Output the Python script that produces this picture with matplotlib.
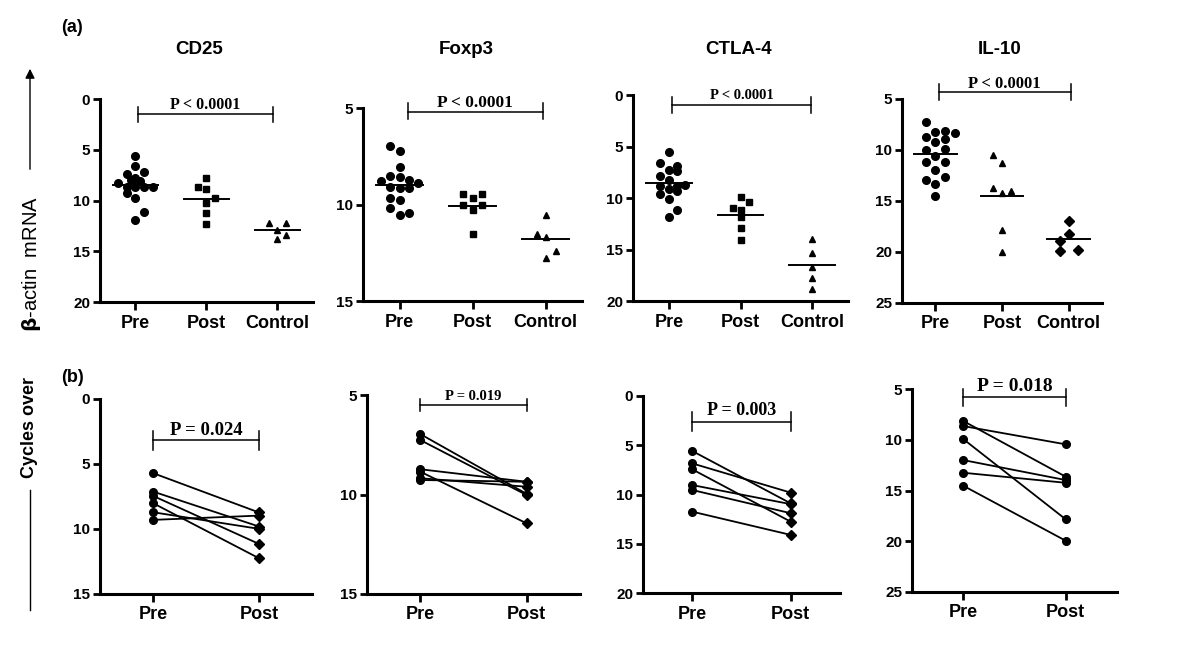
import matplotlib
matplotlib.use('Agg')
import matplotlib.pyplot as plt
import numpy as np

groups3 = ['Pre', 'Post', 'Control']
groups2 = ['Pre', 'Post']
genes = ['CD25', 'Foxp3', 'CTLA-4', 'IL-10']

# (a) scatter data, cycles over beta-actin
cd25_pre = [5.6, 6.6, 7.2, 7.4, 7.8, 8.0, 8.1, 8.3, 8.65, 8.7, 8.7, 8.7, 9.3, 9.8, 11.1, 11.9]
cd25_post = [7.8, 8.65, 8.9, 9.8, 10.2, 11.2, 12.3]
cd25_ctrl = [12.2, 12.2, 12.9, 13.4, 13.8]

foxp3_pre = [6.99, 7.25, 8.06, 8.5, 8.58, 8.8, 8.75, 8.86, 9.07, 9.15, 9.15, 9.67, 9.76, 10.16, 10.54, 10.45]
foxp3_post = [9.45, 9.67, 9.45, 10.05, 10.28, 10.05, 11.52]
foxp3_ctrl = [10.54, 11.52, 11.66, 12.39, 12.79]

ctla4_pre = [5.57, 6.63, 6.9, 7.28, 7.35, 7.83, 8.25, 8.83, 8.83, 8.74, 9.16, 9.29, 9.61, 10.1, 11.17, 11.81]
ctla4_post = [9.87, 10.42, 11.0, 11.17, 11.88, 12.88, 14.08]
ctla4_ctrl = [14.0, 15.3, 16.7, 17.8, 18.87]

il10_pre = [7.29, 8.21, 8.11, 8.37, 8.7, 9.19, 8.96, 10.0, 10.56, 9.91, 11.15, 11.15, 11.97, 12.63, 12.95, 13.35, 14.53]
il10_post = [10.5, 11.32, 13.7, 14.2, 14.0, 17.86, 19.99]
il10_ctrl = [16.95, 18.26, 18.94, 19.89, 19.83]

# horizontal spread of points inside each column (column scatter layout)
cd25_pre_dx = [0, 0, 0.12, -0.12, 0, -0.06, 0.07, -0.24, -0.12, 0, 0.12, 0.24, -0.12, 0, 0.12, 0]
cd25_post_dx = [0, -0.12, 0, 0.12, 0, 0, 0]
cd25_ctrl_dx = [-0.12, 0.12, 0, 0.12, 0]
foxp3_pre_dx = [-0.125, 0, 0, -0.125, 0, -0.25, 0.13, 0.26, -0.125, 0, 0.13, -0.125, 0, -0.125, 0, 0.13]
foxp3_post_dx = [-0.125, 0, 0.13, -0.125, 0, 0.13, 0]
foxp3_ctrl_dx = [0, -0.115, 0, 0.14, 0]
ctla4_pre_dx = [0, -0.12, 0.12, 0, 0.12, -0.12, 0, -0.12, 0.12, 0.22, 0, 0.12, -0.12, 0, 0.12, 0]
ctla4_post_dx = [0, 0.12, -0.11, 0, 0, 0, 0]
ctla4_ctrl_dx = [0, 0, 0, 0, 0]
il10_pre_dx = [-0.135, 0, 0.15, 0.29, -0.135, 0, 0.15, -0.135, 0, 0.15, -0.135, 0.15, 0, 0.15, -0.135, 0, 0]
il10_post_dx = [-0.135, 0, -0.135, 0, 0.14, 0, 0]
il10_ctrl_dx = [0, 0, -0.135, -0.135, 0.14]

# (b) paired data
cd25_b_pre = [5.70, 7.12, 7.45, 8.01, 8.71, 9.30]
cd25_b_post = [8.73, 9.81, 11.15, 12.25, 9.99, 8.97]
foxp3_b_pre = [6.96, 7.26, 8.73, 8.85, 9.18, 9.27]
foxp3_b_post = [9.97, 10.03, 9.36, 11.45, 9.61, 9.36]
ctla4_b_pre = [5.58, 6.84, 7.44, 9.04, 9.54, 11.74]
ctla4_b_post = [10.9, 9.81, 12.76, 10.98, 11.9, 14.1]
il10_b_pre = [8.15, 8.65, 9.93, 12.0, 13.25, 14.53]
il10_b_post = [13.64, 10.45, 17.84, 13.97, 14.24, 19.95]

p_top = ['P < 0.0001'] * 4
p_bottom = ['P = 0.024', 'P = 0.019', 'P = 0.003', 'P = 0.018']

SANS = 'Liberation Sans'
SERIF = 'Liberation Serif'


def style_axes(ax, ylim, yticks, nx, labels):
    ax.set_ylim(ylim)
    ax.set_yticks(yticks)
    ax.set_xlim(0.5, nx + 0.5)
    ax.set_xticks(range(1, nx + 1))
    ax.set_xticklabels(labels, fontsize=13, fontweight='bold', family=SANS)
    for lab in ax.get_yticklabels():
        lab.set_fontsize(11)
        lab.set_fontweight('bold')
        lab.set_family(SANS)
    for s in ['top', 'right']:
        ax.spines[s].set_visible(False)
    for s in ['left', 'bottom']:
        ax.spines[s].set_linewidth(2.2)
    ax.tick_params(axis='both', width=2, length=5, pad=2)
    ax.tick_params(axis='x', length=6, pad=3)


def bracket(ax, x0, x1, y, dn, up, text, ty, fs):
    ax.plot([x0, x1], [y, y], color='black', lw=1.1, clip_on=False)
    ax.plot([x0, x0], [y - up, y + dn], color='black', lw=1.1, clip_on=False)
    ax.plot([x1, x1], [y - up, y + dn], color='black', lw=1.1, clip_on=False)
    ax.text((x0 + x1) / 2, ty, text, ha='center', va='center', fontsize=fs,
            fontweight='bold', family=SERIF, clip_on=False)


fig = plt.figure(figsize=(12, 6.46), dpi=100)

top_pos = [[0.0833, 0.5325, 0.1775, 0.3142],
           [0.3025, 0.534, 0.1825, 0.2988],
           [0.5275, 0.534, 0.1792, 0.3189],
           [0.7517, 0.531, 0.1667, 0.3158]]
bot_pos = [[0.0833, 0.0805, 0.1767, 0.3019],
           [0.3058, 0.0805, 0.1775, 0.308],
           [0.5358, 0.082, 0.1642, 0.305],
           [0.76, 0.0836, 0.1708, 0.3142]]

top_data = [
    ([cd25_pre, cd25_post, cd25_ctrl], [cd25_pre_dx, cd25_post_dx, cd25_ctrl_dx], ['o', 's', '^']),
    ([foxp3_pre, foxp3_post, foxp3_ctrl], [foxp3_pre_dx, foxp3_post_dx, foxp3_ctrl_dx], ['o', 's', '^']),
    ([ctla4_pre, ctla4_post, ctla4_ctrl], [ctla4_pre_dx, ctla4_post_dx, ctla4_ctrl_dx], ['o', 's', '^']),
    ([il10_pre, il10_post, il10_ctrl], [il10_pre_dx, il10_post_dx, il10_ctrl_dx], ['o', '^', 'D']),
]
ylims = [(20, 0), (15, 5), (20, 0), (25, 5)]
yticks_top = [[0, 5, 10, 15, 20], [5, 10, 15], [0, 5, 10, 15, 20], [5, 10, 15, 20, 25]]
ylims_b = [(15, 0), (15, 5), (20, 0), (25, 5)]
yticks_b = [[0, 5, 10, 15], [5, 10, 15], [0, 5, 10, 15, 20], [5, 10, 15, 20, 25]]

# bracket settings: (x0, x1, y, down, up, text y, fontsize)
top_br = [(1.03, 2.94, 1.5, 0.8, 0.7, 0.6, 11.5),
          (1.11, 2.97, 5.19, 0.38, 0.45, 4.75, 12.5),
          (1.05, 2.99, 0.97, 0.8, 0.8, 0.0, 10.5),
          (1.05, 3.03, 4.35, 0.75, 0.8, 3.55, 12)]
bot_br = [(1.0, 2.0, 3.19, 0.7, 0.7, 2.45, 13.5),
          (1.0, 2.0, 5.5, 0.29, 0.28, 5.05, 10.5),
          (1.0, 2.0, 2.6, 1.0, 1.0, 1.5, 13),
          (1.0, 2.0, 5.82, 0.9, 0.8, 4.8, 14)]

for i, (vals, dxs, marks) in enumerate(top_data):
    ax = fig.add_axes(top_pos[i])
    for j, (v, dx, m) in enumerate(zip(vals, dxs, marks)):
        x = np.array(dx) + j + 1
        ms = 5.5 if m == 'o' else 5
        ax.plot(x, v, linestyle='none', marker=m, color='black', markersize=ms, clip_on=False)
        mu = np.mean(v)
        ax.plot([j + 1 - 0.32, j + 1 + 0.32], [mu, mu], color='black', lw=1.4)
    style_axes(ax, ylims[i], yticks_top[i], 3, groups3)
    x0, x1, y, dn, up, ty, fs = top_br[i]
    bracket(ax, x0, x1, y, dn, up, p_top[i], ty, fs)

bot_data = [(cd25_b_pre, cd25_b_post, 'D'), (foxp3_b_pre, foxp3_b_post, 'D'),
            (ctla4_b_pre, ctla4_b_post, 'D'), (il10_b_pre, il10_b_post, 'o')]

for i, (pre, post, m2) in enumerate(bot_data):
    ax = fig.add_axes(bot_pos[i])
    for a, b in zip(pre, post):
        ax.plot([1, 2], [a, b], color='black', lw=1.3)
    ax.plot([1] * len(pre), pre, 'o', color='black', markersize=5.5, linestyle='none')
    ax.plot([2] * len(post), post, m2, color='black', markersize=5 if m2 == 'D' else 5.5,
            linestyle='none')
    style_axes(ax, ylims_b[i], yticks_b[i], 2, groups2)
    x0, x1, y, dn, up, ty, fs = bot_br[i]
    bracket(ax, x0, x1, y, dn, up, p_bottom[i], ty, fs)

# titles and panel letters
title_x = [199 / 1200, 466 / 1200, 739 / 1200, 1000 / 1200]
for g, tx in zip(genes, title_x):
    fig.text(tx, 1 - 50 / 646, g, ha='center', va='center', fontsize=13.5,
             fontweight='bold', family=SANS)
fig.text(72 / 1200, 1 - 28 / 646, '(a)', ha='center', va='center', fontsize=13,
         fontweight='bold', family=SANS)
fig.text(72 / 1200, 1 - 377 / 646, '(b)', ha='center', va='center', fontsize=13,
         fontweight='bold', family=SANS)

# shared y label with arrow
xl = 30 / 1200
fig.text(xl, 1 - 428 / 646, 'Cycles over', rotation=90, ha='center',
         va='center', fontsize=13, fontweight='bold', family=SANS)
fig.text(xl + 0.001, 1 - 264 / 646, r'$\mathbf{\beta}$-actin  mRNA', rotation=90, ha='center',
         va='center', fontsize=14.5, family=SANS)
fig.add_artist(plt.Line2D([xl, xl], [1 - 610 / 646, 1 - 490 / 646], color='black', lw=1))
fig.add_artist(matplotlib.patches.FancyArrowPatch((xl, 1 - 172 / 646), (xl, 1 - 66 / 646),
               transform=fig.transFigure, arrowstyle='-|>', mutation_scale=14,
               color='black', lw=1))

fig.savefig('out.png', dpi=100)
